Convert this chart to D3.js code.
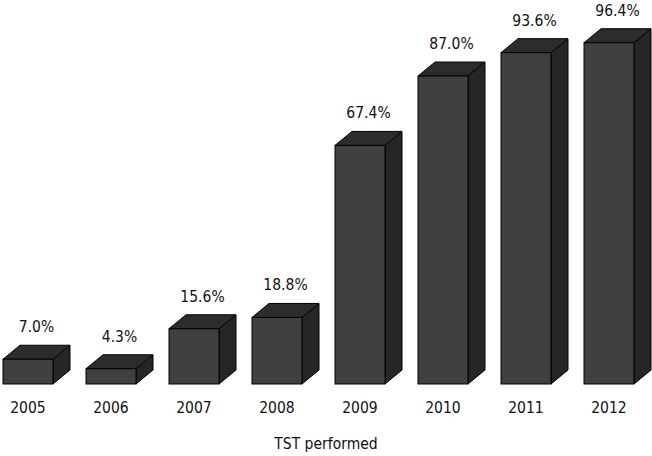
<!DOCTYPE html>
<html>
<head>
<meta charset="utf-8">
<script src="https://cdn.jsdelivr.net/npm/d3@7"></script>
<style>
  body { margin: 0; background: #fff; }
  text { font-family: "DejaVu Sans Condensed", "DejaVu Sans", sans-serif; font-size: 15.5px; fill: #111; }
</style>
</head>
<body>
<svg id="chart" width="652" height="456"></svg>
<script>
const years = ["2005", "2006", "2007", "2008", "2009", "2010", "2011", "2012"];
const pct = [7.0, 4.3, 15.6, 18.8, 67.4, 87.0, 93.6, 96.4];
const pctLabels = ["7.0%", "4.3%", "15.6%", "18.8%", "67.4%", "87.0%", "93.6%", "96.4%"];
const axisTitle = "TST performed";

const data = years.map((yr, i) => ({ year: yr, value: pct[i], label: pctLabels[i] }));

const svg = d3.select("#chart");
const base = 384;
const depthX = 17, depthY = 14;

const x = d3.scaleBand()
  .domain(years)
  .range([3, 634])
  .paddingInner(33 / 83)
  .paddingOuter(0);
const y = d3.scaleLinear().domain([0, 100]).range([base, 30]);

const w = x.bandwidth();

const bars = svg.append("g").selectAll("g.bar")
  .data(data)
  .join("g")
  .attr("class", "bar");

// side face
bars.append("polygon")
  .attr("points", d => {
    const x0 = x(d.year) + w, yt = y(d.value);
    return [[x0, yt], [x0 + depthX, yt - depthY], [x0 + depthX, base - depthY], [x0, base]].join(" ");
  })
  .attr("fill", "#262626")
  .attr("stroke", "#000")
  .attr("stroke-width", 1)
  .attr("stroke-linejoin", "round");

// top face
bars.append("polygon")
  .attr("points", d => {
    const x0 = x(d.year), yt = y(d.value);
    return [[x0, yt], [x0 + depthX, yt - depthY], [x0 + w + depthX, yt - depthY], [x0 + w, yt]].join(" ");
  })
  .attr("fill", "#2c2c2c")
  .attr("stroke", "#000")
  .attr("stroke-width", 1)
  .attr("stroke-linejoin", "round");

// front face
bars.append("rect")
  .attr("x", d => x(d.year))
  .attr("y", d => y(d.value))
  .attr("width", w)
  .attr("height", d => base - y(d.value))
  .attr("fill", "#404040")
  .attr("stroke", "#000")
  .attr("stroke-width", 1);

// value labels
bars.append("text")
  .attr("x", d => x(d.year) + (w + depthX) / 2)
  .attr("y", d => y(d.value) - depthY - 13)
  .attr("text-anchor", "middle")
  .text(d => d.label);

// category labels
svg.append("g").selectAll("text.year")
  .data(years)
  .join("text")
  .attr("class", "year")
  .attr("x", d => x(d) + w / 2)
  .attr("y", 413)
  .attr("text-anchor", "middle")
  .text(d => d);

svg.append("text")
  .attr("x", 326)
  .attr("y", 449)
  .attr("text-anchor", "middle")
  .text(axisTitle);
</script>
</body>
</html>
